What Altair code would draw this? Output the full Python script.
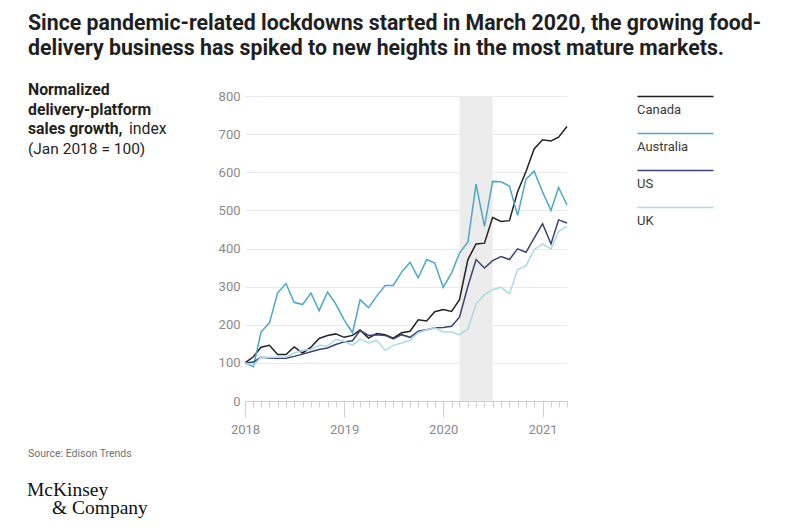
import altair as alt
import pandas as pd

# ---------------- data ----------------
months = pd.date_range("2018-01-01", periods=40, freq="MS").strftime("%Y-%m-%d").tolist()

canada = [100, 116, 141, 146, 122, 122, 142, 126, 141, 164, 172, 176, 167, 172, 186, 165,
          177, 174, 165, 179, 183, 213, 210, 234, 240, 235, 266, 371, 412, 414, 481, 471,
          473, 549, 602, 661, 685, 682, 692, 720]
australia = [100, 90, 181, 205, 283, 308, 259, 253, 283, 237, 286, 255, 213, 179, 266, 245,
             275, 303, 303, 338, 364, 323, 371, 362, 298, 336, 388, 417, 569, 458, 576, 575,
             564, 487, 582, 603, 548, 500, 560, 514]
us = [100, 102, 115, 113, 112, 112, 117, 123, 129, 135, 139, 148, 155, 158, 185, 172,
      174, 172, 163, 174, 167, 183, 187, 192, 193, 196, 220, 301, 371, 349, 368, 379,
      371, 399, 390, 427, 465, 412, 475, 467]
uk = [100, 94, 115, 115, 115, 115, 126, 133, 135, 146, 144, 161, 157, 146, 163, 152,
      159, 133, 146, 152, 159, 179, 187, 192, 181, 181, 174, 189, 255, 279, 292, 298,
      281, 344, 355, 397, 412, 399, 445, 458]

countries = ["Canada", "Australia", "US", "UK"]
colors = ["#232323", "#4ea7c7", "#3a4276", "#a9dbe7"]

shade_start = ["2020-03-01"]
shade_end = ["2020-07-01"]

title_text = ["Since pandemic-related lockdowns started in March 2020, the growing food-",
              "delivery business has spiked to new heights in the most mature markets."]
sub_bold = ["Normalized", "delivery-platform", "sales growth,"]
sub_index = ["index"]
sub_reg = ["(Jan 2018 = 100)"]
source_text = ["Source: Edison Trends"]
logo_1 = ["McKinsey"]
logo_2 = ["& Company"]

series = {"Canada": canada, "Australia": australia, "US": us, "UK": uk}
df = pd.concat(
    [pd.DataFrame({"date": months, "value": v, "country": k}) for k, v in series.items()],
    ignore_index=True,
)

W, H = 322, 305
FONT = "Roboto"

x_scale = alt.Scale(
    type="utc",
    domain=[alt.DateTime(year=2018, month=1, date=1, utc=True),
            alt.DateTime(year=2021, month=4, date=1, utc=True)],
    nice=False,
)

shade = alt.Chart(pd.DataFrame({"s": shade_start, "e": shade_end})).mark_rect(
    color="#ececec"
).encode(
    x=alt.X("s:T", scale=x_scale),
    x2="e:T",
    y=alt.value(0),
    y2=alt.value(H),
)

lines = alt.Chart(df).mark_line(strokeWidth=1.5).encode(
    x=alt.X(
        "date:T",
        scale=x_scale,
        axis=alt.Axis(
            title=None,
            grid=False,
            tickCount={"interval": "month", "step": 1},
            labelExpr="utcmonth(datum.value) == 0 ? utcFormat(datum.value, '%Y') : ''",
            domainColor="#cfcfcf",
            tickColor="#cfcfcf",
            tickSize={"condition": {"test": "utcmonth(datum.value) == 0", "value": 16}, "value": 6},
            labelPadding=6,
            labelFontSize=13,
            labelColor="#8a8a8a",
            labelFont=FONT,
            labelFlush=False,
            labelOverlap=False,
        ),
    ),
    y=alt.Y(
        "value:Q",
        scale=alt.Scale(domain=[0, 800]),
        axis=alt.Axis(
            title=None,
            values=[0, 100, 200, 300, 400, 500, 600, 700, 800],
            domain=False,
            ticks=False,
            gridColor={"condition": {"test": "datum.value == 0", "value": "transparent"}, "value": "#e9e9e9"},
            labelPadding=5,
            labelFontSize=13,
            labelColor="#8a8a8a",
            labelFont=FONT,
        ),
    ),
    color=alt.Color(
        "country:N",
        sort=countries,
        scale=alt.Scale(domain=countries, range=colors),
        legend=alt.Legend(
            title=None,
            orient="none",
            legendX=379,
            legendY=7,
            direction="vertical",
            symbolType="M3.5,-6.5L41.5,-6.5",
            symbolSize=16,
            symbolStrokeWidth=1.3,
            labelOffset=0,
            labelFontSize=13,
            labelColor="#3a3a3a",
            labelFont=FONT,
            rowPadding=13,
            padding=0,
        ),
    ),
    order=alt.Order("order:Q"),
).transform_calculate(
    order="indexof(['UK','US','Australia','Canada'], datum.country)"
)


def txt(content, x, y, size, weight="normal", color="#222222", font=FONT, line_height=None):
    kw = dict(align="left", baseline="alphabetic", fontSize=size, fontWeight=weight,
              color=color, font=font)
    if line_height is not None:
        kw.update(lineBreak="\n", lineHeight=line_height)
    return alt.Chart(pd.DataFrame({"t": ["\n".join(content)]})).mark_text(**kw).encode(
        text="t:N", x=alt.value(x), y=alt.value(y)
    )


title = txt(title_text, -217, -66, 21.3, "bold", "#1f1f1f", line_height=25)
sub1 = txt(sub_bold, -217, -1, 15.8, "bold", "#1f1f1f", line_height=19.5)
sub2 = txt(sub_index, -116, 38, 15.8, "normal", "#1f1f1f")
sub3 = txt(sub_reg, -217, 57.5, 15.5, "normal", "#1f1f1f")
source = txt(source_text, -217, 361, 10.5, "normal", "#707070")
logo_a = txt(logo_1, -218, 400, 19.5, "normal", "#111111", font="Liberation Serif")
logo_b = txt(logo_2, -193, 418, 19.5, "normal", "#111111", font="Liberation Serif")

chart = alt.layer(
    shade, lines, title, sub1, sub2, sub3, source, logo_a, logo_b
).properties(
    width=W,
    height=H,
    autosize="none",
    padding={"left": 237, "top": 88, "right": 215, "bottom": 118},
).configure_view(stroke=None)

chart.save("out.html", embed_options={"renderer": "svg", "actions": False})
